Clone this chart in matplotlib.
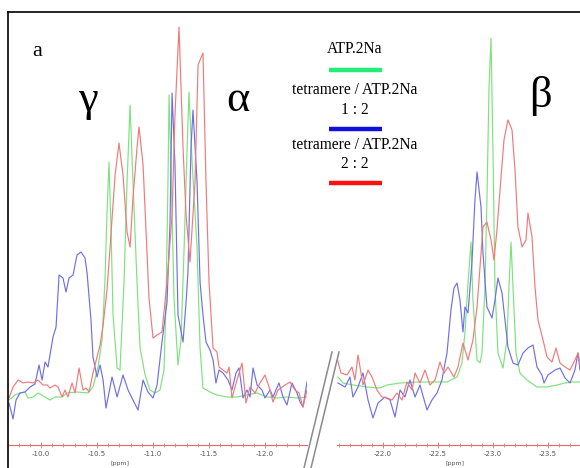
import matplotlib
matplotlib.use("Agg")
import matplotlib.pyplot as plt
from matplotlib.lines import Line2D
from matplotlib.ticker import MultipleLocator

plt.rcParams['font.family'] = ['Liberation Serif', 'DejaVu Serif']

# ---- spectra, alpha / gamma region (ppm, intensity a.u.)
green_a_ppm = [-9.714, -9.768, -9.812, -9.857, -9.884, -9.929, -9.973, -10.036, -10.080, -10.125,
               -10.188, -10.232, -10.321, -10.420, -10.464, -10.509, -10.545, -10.571, -10.589, -10.607,
               -10.625, -10.643, -10.679, -10.705, -10.741, -10.768, -10.795, -10.821, -10.857, -10.884,
               -10.929, -10.973, -11.018, -11.062, -11.098, -11.116, -11.134, -11.143, -11.161, -11.188,
               -11.223, -11.25, -11.277, -11.304, -11.321, -11.348, -11.393, -11.420, -11.446, -11.509,
               -11.571, -11.661, -11.75, -11.839, -11.929, -12.018, -12.107, -12.196, -12.286, -12.375]
green_a_int = [45, 50, 52, 53, 47, 48, 52, 48, 45, 48,
               48, 52, 53, 52, 58, 78, 105, 165, 232, 283,
               215, 130, 77, 75, 163, 263, 340, 263, 163, 97,
               70, 55, 52, 55, 75, 145, 265, 350, 275, 145,
               80, 105, 195, 295, 353, 285, 197, 97, 57, 53,
               50, 48, 48, 50, 52, 48, 47, 48, 47, 48]

blue_a_ppm = [-9.714, -9.75, -9.777, -9.812, -9.857, -9.902, -9.946, -9.982, -10.009, -10.036,
              -10.062, -10.107, -10.134, -10.161, -10.196, -10.223, -10.25, -10.286, -10.321, -10.357,
              -10.393, -10.411, -10.446, -10.464, -10.5, -10.527, -10.554, -10.580, -10.634, -10.679,
              -10.732, -10.777, -10.821, -10.866, -10.911, -10.955, -11.0, -11.036, -11.080, -11.125,
              -11.152, -11.170, -11.196, -11.223, -11.268, -11.295, -11.312, -11.339, -11.357, -11.393,
              -11.420, -11.446, -11.473, -11.509, -11.536, -11.562, -11.589, -11.625, -11.670, -11.705,
              -11.741, -11.768, -11.804, -11.839, -11.866, -11.893, -11.929, -11.973, -12.0, -12.045,
              -12.071, -12.125, -12.161, -12.196, -12.241, -12.286, -12.313, -12.339, -12.375]
blue_a_int = [42, 26, 45, 52, 53, 58, 61, 80, 65, 83,
              78, 108, 118, 170, 167, 153, 167, 170, 190, 193,
              187, 172, 125, 88, 68, 80, 65, 37, 68, 48,
              70, 55, 45, 35, 65, 53, 47, 60, 103, 143,
              223, 352, 280, 130, 103, 143, 173, 297, 335, 263,
              163, 130, 103, 95, 85, 62, 75, 72, 65, 55,
              72, 77, 47, 55, 48, 77, 60, 55, 47, 55,
              48, 62, 48, 40, 62, 52, 43, 38, 63]

red_a_ppm = [-9.714, -9.75, -9.795, -9.839, -9.884, -9.929, -9.973, -10.018, -10.054, -10.080,
             -10.125, -10.152, -10.188, -10.214, -10.241, -10.277, -10.304, -10.339, -10.375, -10.402,
             -10.429, -10.464, -10.5, -10.527, -10.554, -10.589, -10.616, -10.661, -10.696, -10.732,
             -10.768, -10.795, -10.821, -10.857, -10.875, -10.911, -10.938, -10.964, -11.0, -11.036,
             -11.080, -11.125, -11.170, -11.196, -11.232, -11.268, -11.295, -11.330, -11.375, -11.402,
             -11.446, -11.473, -11.5, -11.536, -11.571, -11.589, -11.625, -11.661, -11.679, -11.705,
             -11.75, -11.795, -11.830, -11.866, -11.911, -11.955, -12.0, -12.045, -12.071, -12.116,
             -12.179, -12.223, -12.268, -12.304, -12.339, -12.375]
red_a_int = [47, 58, 65, 62, 63, 62, 65, 60, 60, 57,
             60, 58, 48, 55, 48, 62, 52, 77, 55, 57,
             53, 72, 88, 100, 120, 155, 197, 270, 302, 270,
             213, 198, 247, 297, 318, 280, 213, 147, 107, 110,
             113, 163, 230, 330, 418, 297, 230, 183, 263, 380,
             392, 263, 163, 97, 93, 78, 75, 72, 78, 47,
             65, 82, 42, 58, 52, 62, 70, 55, 43, 55,
             60, 63, 55, 52, 38, 55]

# ---- spectra, beta region
green_b_ppm = [-21.591, -21.636, -21.727, -21.855, -21.973, -22.036, -22.155, -22.309, -22.455, -22.582,
               -22.673, -22.718, -22.745, -22.773, -22.8, -22.818, -22.855, -22.882, -22.9, -22.927,
               -22.945, -22.964, -22.982, -23.0, -23.018, -23.045, -23.091, -23.127, -23.145, -23.164,
               -23.182, -23.209, -23.245, -23.309, -23.4, -23.491, -23.582, -23.655, -23.718, -23.791]
green_b_int = [68, 62, 60, 58, 57, 60, 62, 63, 63, 63,
               68, 82, 112, 162, 203, 145, 85, 82, 92, 158,
               245, 358, 407, 292, 158, 92, 77, 105, 158, 203,
               158, 92, 72, 65, 58, 58, 60, 62, 63, 63]

blue_b_ppm = [-21.591, -21.655, -21.7, -21.727, -21.773, -21.818, -21.864, -21.909, -21.955, -22.018,
              -22.064, -22.109, -22.155, -22.2, -22.245, -22.291, -22.336, -22.4, -22.445, -22.491,
              -22.536, -22.582, -22.618, -22.645, -22.673, -22.7, -22.727, -22.745, -22.773, -22.809,
              -22.836, -22.855, -22.891, -22.909, -22.945, -22.991, -23.018, -23.045, -23.082, -23.109,
              -23.136, -23.182, -23.227, -23.273, -23.318, -23.364, -23.4, -23.445, -23.464, -23.5,
              -23.564, -23.609, -23.655, -23.7, -23.745, -23.773, -23.791]
blue_b_int = [62, 58, 68, 48, 58, 72, 45, 27, 42, 48,
              45, 28, 55, 48, 65, 48, 60, 35, 45, 52,
              65, 92, 135, 157, 162, 145, 113, 138, 132, 183,
              245, 273, 238, 192, 138, 127, 145, 167, 152, 125,
              98, 82, 80, 92, 97, 100, 78, 70, 62, 70,
              75, 77, 67, 62, 75, 92, 75]

red_b_ppm = [-21.582, -21.618, -21.673, -21.718, -21.745, -21.773, -21.818, -21.864, -21.9, -21.945,
             -21.991, -22.036, -22.082, -22.127, -22.173, -22.218, -22.264, -22.291, -22.336, -22.382,
             -22.427, -22.473, -22.518, -22.555, -22.591, -22.645, -22.682, -22.727, -22.773, -22.818,
             -22.855, -22.882, -22.909, -22.945, -22.982, -23.009, -23.036, -23.064, -23.1, -23.136,
             -23.173, -23.2, -23.227, -23.264, -23.3, -23.318, -23.355, -23.382, -23.409, -23.455,
             -23.491, -23.536, -23.573, -23.609, -23.655, -23.7, -23.745, -23.773, -23.791]
red_b_int = [87, 72, 70, 78, 65, 90, 60, 75, 68, 55,
             48, 47, 45, 52, 45, 63, 55, 72, 62, 75,
             60, 65, 83, 72, 78, 68, 78, 102, 85, 105,
             138, 178, 218, 223, 205, 185, 215, 255, 305, 325,
             315, 275, 218, 198, 205, 232, 208, 158, 125, 105,
             88, 83, 97, 82, 78, 75, 85, 92, 80]

legend_labels = ["ATP.2Na", "tetramere / ATP.2Na\n1 : 2", "tetramere / ATP.2Na\n2 : 2"]
legend_colors = ["#22ee77", "#1010dd", "#ff1010"]
line_colors = ["#7ee27e", "#6f6fe6", "#f07a7a"]

W, H = 580, 468
fig = plt.figure(figsize=(W / 100, H / 100), dpi=100)


def fx(px):
    return px / W


def fy(py):
    return 1 - py / H


def panel(left_px, right_px, xlim, major, ppm_sets, label_px):
    ax = fig.add_axes([fx(left_px), fy(445), fx(right_px - left_px), (445 - 15) / H])
    for (p, v), c in zip(ppm_sets, line_colors):
        ax.plot(p, v, color=c, lw=0.85)
    ax.set_xlim(*xlim)
    ax.set_ylim(0, 430)
    for s in ["top", "left", "right"]:
        ax.spines[s].set_visible(False)
    ax.spines["bottom"].set_color("#e06a6a")
    ax.spines["bottom"].set_linewidth(0.8)
    ax.set_yticks([])
    ax.xaxis.set_major_locator(MultipleLocator(major))
    ax.xaxis.set_minor_locator(MultipleLocator(0.1))
    ax.tick_params(axis="x", which="major", direction="inout", length=4, width=0.6,
                   color="#e06a6a", labelsize=5, labelcolor="#555555", pad=2,
                   labelfontfamily="DejaVu Sans")
    ax.tick_params(axis="x", which="minor", direction="inout", length=2.5, width=0.5,
                   color="#e06a6a")
    ax.xaxis.set_major_formatter(plt.FuncFormatter(lambda v, _: "%.1f" % v))
    ax.patch.set_alpha(0)
    fig.text(fx(label_px), fy(464), "[ppm]", fontsize=4.5, color="#555555",
             ha="center", va="center", family="DejaVu Sans")
    return ax


ax1 = panel(8, 307, (-9.705, -12.375), 0.5,
            [(green_a_ppm, green_a_int), (blue_a_ppm, blue_a_int), (red_a_ppm, red_a_int)], 120)
ax2 = panel(337, 580, (-21.582, -23.791), 0.5,
            [(green_b_ppm, green_b_int), (blue_b_ppm, blue_b_int), (red_b_ppm, red_b_int)], 455)

# frame
fig.add_artist(Line2D([fx(8), 1], [fy(12), fy(12)], color="black", lw=1.2))
fig.add_artist(Line2D([fx(8), fx(8)], [fy(12), 0], color="black", lw=1.2))

# axis break
for off in (0, 7):
    fig.add_artist(Line2D([fx(332 + off), fx(304 + off)], [fy(352), fy(468)],
                          color="#8a8a8a", lw=1.1))

# letters
fig.text(fx(37), fy(52), "a", fontsize=16, ha="center", va="center")
fig.text(fx(88), fy(100), "γ", fontsize=32, ha="center", va="center")
fig.text(fx(238), fy(100), "α", fontsize=32, ha="center", va="center")
fig.text(fx(540), fy(96), "β", fontsize=32, ha="center", va="center")

# legend
text_y = [49, 100, 155]
bar_y = [70, 129, 183]
for lab, c, ty, by in zip(legend_labels, legend_colors, text_y, bar_y):
    fig.text(fx(355), fy(ty), lab, fontsize=11.2, ha="center", va="center",
             linespacing=1.25)
    fig.add_artist(Line2D([fx(329), fx(382)], [fy(by), fy(by)], color=c, lw=3.2,
                          solid_capstyle="butt"))

fig.savefig("out.png", dpi=100)
